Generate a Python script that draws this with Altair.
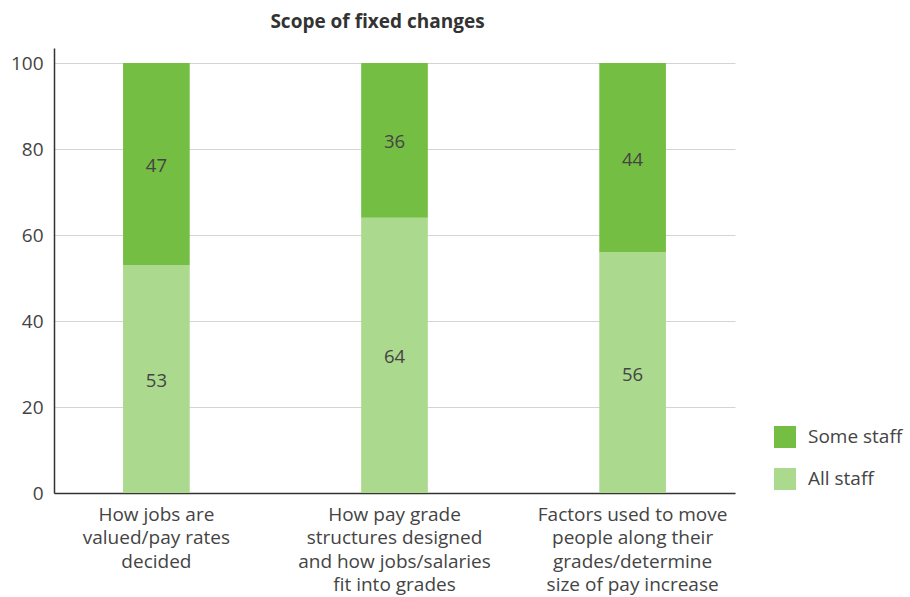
import altair as alt
import pandas as pd

categories = [
    "How jobs are|valued/pay rates|decided",
    "How pay grade|structures designed|and how jobs/salaries|fit into grades",
    "Factors used to move|people along their|grades/determine|size of pay increase",
]
all_staff = [53, 64, 56]
some_staff = [47, 36, 44]
series = ["Some staff", "All staff"]
colors = ["#74BE43", "#ABD98E"]
y_ticks = [0, 20, 40, 60, 80, 100]

rows = []
for c, a, s in zip(categories, all_staff, some_staff):
    rows.append({"cat": c, "series": "All staff", "value": a, "ord": 0})
    rows.append({"cat": c, "series": "Some staff", "value": s, "ord": 1})
df = pd.DataFrame(rows)

FONT = "Open Sans"

base = alt.Chart(df).transform_stack(
    stack="value", groupby=["cat"], as_=["v0", "v1"], sort=[alt.SortField("ord", "ascending")]
).transform_calculate(mid="(datum.v0 + datum.v1) / 2")

x = alt.X(
    "cat:N",
    sort=categories,
    title=None,
    scale=alt.Scale(paddingInner=0.72, paddingOuter=0.29),
    axis=alt.Axis(
        labelExpr="split(datum.label, '|')",
        labelAngle=0,
        labelFontSize=19,
        labelColor="#444444",
        labelFont=FONT,
        labelLineHeight=23.5,
        labelPadding=12,
        labelLimit=300,
        ticks=False,
        domainColor="#333333",
        domainWidth=1.5,
        grid=False,
    ),
)

bars = base.mark_bar().encode(
    x=x,
    y=alt.Y(
        "v0:Q",
        title=None,
        scale=alt.Scale(domain=[0, 103.5], nice=False),
        axis=alt.Axis(
            values=y_ticks,
            labelFontSize=19,
            labelColor="#444444",
            labelFont=FONT,
            labelPadding=11,
            ticks=False,
            domainColor="#333333",
            domainWidth=1.5,
            gridColor="#d4d4d4",
            gridWidth=1.2,
        ),
    ),
    y2="v1:Q",
    color=alt.Color(
        "series:N",
        scale=alt.Scale(domain=series, range=colors),
        legend=alt.Legend(
            title=None,
            orient="none",
            legendX=720,
            legendY=378,
            symbolType="square",
            symbolSize=484,
            symbolStrokeWidth=0,
            labelFontSize=19,
            labelFont=FONT,
            labelColor="#444444",
            rowPadding=20,
            labelOffset=12,
        ),
    ),
)

labels = base.mark_text(fontSize=18.5, font=FONT, color="#444444", dy=2).encode(
    x=alt.X("cat:N", sort=categories),
    y=alt.Y("mid:Q"),
    text=alt.Text("value:Q"),
)

chart = (
    alt.layer(bars, labels)
    .properties(
        width=681,
        height=445,
        autosize=alt.AutoSizeParams(type="none"),
        padding={"left": 54, "top": 48, "right": 175, "bottom": 104},
        title=alt.TitleParams(
            "Scope of fixed changes",
            font=FONT,
            fontSize=19,
            fontWeight="bold",
            color="#333333",
            anchor="middle",
            dx=-17,
            offset=16,
        ),
    )
    .configure_view(stroke=None)
)

chart.save("out.html", embed_options={"renderer": "svg", "actions": False})
